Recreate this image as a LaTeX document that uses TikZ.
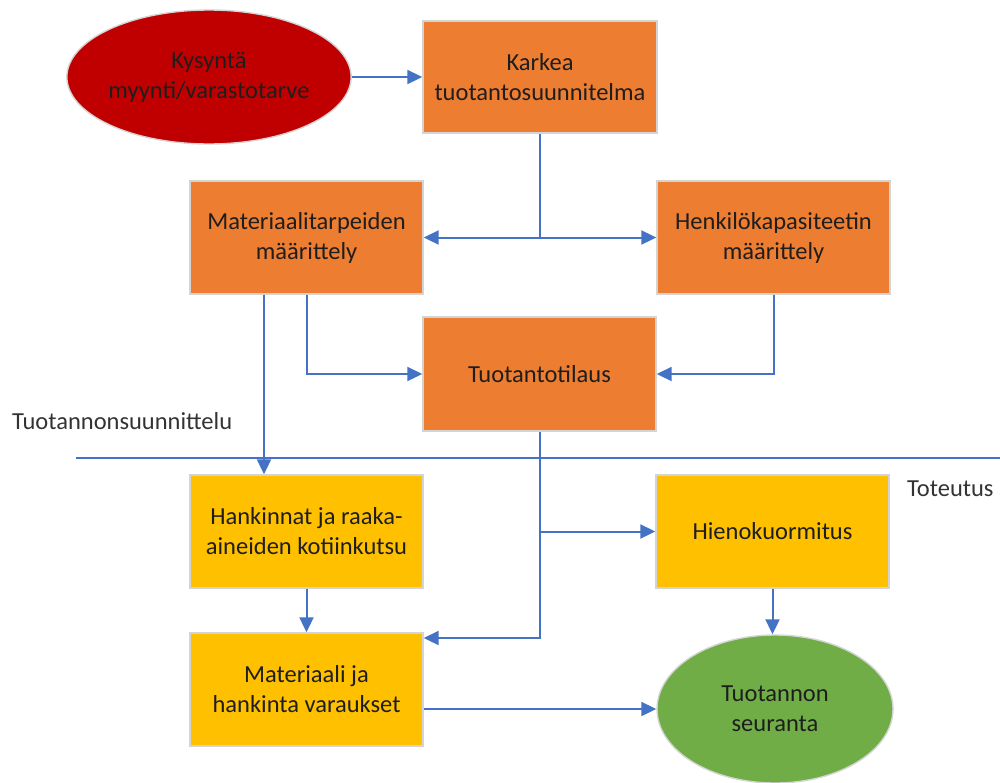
\documentclass[tikz,border=0pt]{standalone}
\usepackage{fontspec}
\setmainfont{Carlito}
\usetikzlibrary{arrows.meta,shapes.geometric}
\definecolor{cRed}{HTML}{C00000}
\definecolor{cOrange}{HTML}{ED7D31}
\definecolor{cYellow}{HTML}{FFC000}
\definecolor{cGreen}{HTML}{70AD47}
\definecolor{cBlue}{HTML}{4472C4}
\definecolor{cEdge}{HTML}{D4D4D4}
\definecolor{cText}{HTML}{1E1E1E}
\definecolor{cLabel}{HTML}{333333}
\tikzset{
  base/.style={draw=cEdge, line width=1.4pt, text=cText, align=center, inner sep=0pt,
    font=\fontsize{24.5}{30}\selectfont},
  obox/.style={base, rectangle, fill=cOrange, minimum width=233pt, minimum height=113pt},
  ybox/.style={base, rectangle, fill=cYellow, minimum width=233pt, minimum height=113pt},
  oval/.style={base, ellipse},
  conn/.style={draw=cBlue, line width=2pt},
  arr/.style={conn, -{Triangle[length=15pt,width=14pt]}},
  lbl/.style={text=cLabel, inner sep=0pt, anchor=west, font=\fontsize{24.5}{30}\selectfont}
}
\begin{document}
\begin{tikzpicture}[x=1pt, y=-1pt]
\useasboundingbox (0,0) rectangle (1000,782);

\node[oval, fill=cRed, minimum width=282pt, minimum height=134pt] (kys) at (209,77) {Kysyntä\\myynti/varastotarve};
\node[obox, minimum width=234pt, minimum height=112pt] (kar) at (540,77) {Karkea\\tuotantosuunnitelma};
\node[obox] (mat) at (306.5,237.5) {Materiaalitarpeiden\\määrittely};
\node[obox] (hen) at (773.5,237.5) {Henkilökapasiteetin\\määrittely};
\node[obox, minimum height=114pt] (tti) at (539.5,374) {Tuotantotilaus};
\node[ybox] (han) at (306.5,531.5) {Hankinnat ja raaka-\\aineiden kotiinkutsu};
\node[ybox] (hie) at (772.5,531.5) {Hienokuormitus};
\node[ybox] (mhv) at (306.5,689.5) {Materiaali ja\\hankinta varaukset};
\node[oval, fill=cGreen, minimum width=236pt, minimum height=148pt] (seu) at (775,709) {Tuotannon\\seuranta};

\node[lbl] (lplan) at (12,421) {Tuotannonsuunnittelu};
\node[lbl] (ltot) at (907,489) {Toteutus};

\coordinate (sepL) at (76,458);
\coordinate (sepR) at (1000,458);
\draw[conn] (sepL) -- (sepR);

\draw[arr] (kys.east) -- (kar.west);
\coordinate (j1) at (kar.south |- mat.east);
\draw[conn] (kar.south) -- (j1);
\draw[arr] (j1) -- (mat.east);
\draw[arr] (j1) -- (hen.west);

\draw[arr] ([xshift=-42.5pt]mat.south) -- ([xshift=-42.5pt]han.north);
\draw[arr] (mat.south) |- (tti.west);
\draw[arr] (hen.south) |- (tti.east);

\coordinate (j2) at (tti.south |- hie.west);
\draw[arr] (tti.south) |- ([yshift=51.5pt]mhv.east);
\draw[arr] (j2) -- (hie.west);

\draw[arr] (han.south) -- (mhv.north);
\draw[arr] (hie.south) -- (hie.south |- seu.north);
\draw[arr] (mhv.east |- seu.west) -- (seu.west);
\end{tikzpicture}
\end{document}
